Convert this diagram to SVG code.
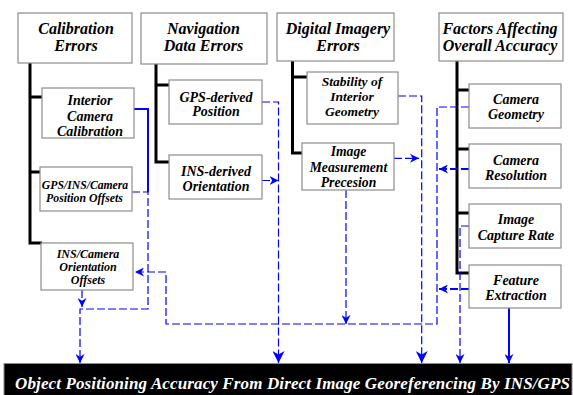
<svg xmlns="http://www.w3.org/2000/svg" width="573" height="395" viewBox="0 0 573 395">
<style>
.box{fill:#fff;stroke:#8c8c8c;stroke-width:1.2}
.h{font-family:"Liberation Serif","Times New Roman",serif;font-weight:bold;font-style:italic;font-size:16px;fill:#000;text-anchor:middle}
.t{font-family:"Liberation Serif","Times New Roman",serif;font-weight:bold;font-style:italic;font-size:14px;fill:#000;text-anchor:middle}
.s{font-family:"Liberation Serif","Times New Roman",serif;font-weight:bold;font-style:italic;font-size:12px;fill:#000;text-anchor:middle}
.trunk{fill:none;stroke:#000;stroke-width:3}
.d{fill:none;stroke:#0000ff;stroke-width:1.2;stroke-dasharray:8 3}
.sb{fill:none;stroke:#0000ff;stroke-width:2}
.bar{fill:#000;stroke:#8c8c8c;stroke-width:1}
.bt{font-family:"Liberation Serif","Times New Roman",serif;font-weight:bold;font-style:italic;font-size:17px;fill:#fff}
</style>
<defs>
<marker id="a" viewBox="0 0 10 10" refX="10" refY="5" markerWidth="9" markerHeight="9" markerUnits="userSpaceOnUse" orient="auto">
<path d="M0,0 L10,5 L0,10 L3,5 Z" fill="#0000ff"/>
</marker>
<marker id="A" viewBox="0 0 10 10" refX="10" refY="5" markerWidth="12" markerHeight="12" markerUnits="userSpaceOnUse" orient="auto">
<path d="M0,0 L10,5 L0,10 L3,5 Z" fill="#0000ff"/>
</marker>
</defs>

<g id="trunks">
<path class="trunk" d="M30,63 V243 H42 M30,97 H42 M30,172 H40"/>
<path class="trunk" d="M156,64 V162 H169 M156,85 H169"/>
<path class="trunk" d="M292.5,61 V153 H302 M292.5,77 H307"/>
<path class="trunk" d="M457,61 V273 H469 M457,90 H469 M457,149 H469 M457,213 H469"/>
</g>

<g id="connectors">
<path class="sb" d="M134,109 H148 V192"/>
<path class="d" d="M132,192 H148 V309 H80 V363" marker-end="url(#a)"/>
<path class="d" d="M82,290 V307" marker-end="url(#a)"/>
<path class="d" d="M469,107 H437 V324 H166 V272 H135" marker-end="url(#a)"/>
<path class="d" d="M346,190 V324" marker-end="url(#a)"/>
<path class="d" d="M262,102 H278.5 V363" marker-end="url(#A)"/>
<path class="d" d="M262,180.5 H278.5" marker-end="url(#a)"/>
<path class="d" d="M398,96 H421.7 V363" marker-end="url(#A)"/>
<path class="d" d="M394,158.3 H419" marker-end="url(#a)"/>
<path class="d" style="stroke-width:1.8" d="M469,169 H439" marker-end="url(#a)"/>
<path class="d" d="M469,226 H460 V363" marker-end="url(#a)"/>
<path class="d" style="stroke-width:1.8" d="M469,289 H439" marker-end="url(#a)"/>
<path class="sb" d="M509,308 V363" marker-end="url(#a)"/>
</g>

<g id="calibration-errors">
<rect class="box" x="18" y="13" width="114" height="50"/>
<text class="h" x="76" y="34">Calibration</text>
<text class="h" x="76" y="51">Errors</text>
</g>
<g id="navigation-data-errors">
<rect class="box" x="141" y="13" width="126" height="51"/>
<text class="h" x="203.5" y="34">Navigation</text>
<text class="h" x="203.5" y="51">Data Errors</text>
</g>
<g id="digital-imagery-errors">
<rect class="box" x="277" y="13" width="117" height="48"/>
<text class="h" x="338" y="34">Digital Imagery</text>
<text class="h" x="338" y="51">Errors</text>
</g>
<g id="factors">
<rect class="box" x="439" y="13" width="124" height="48"/>
<text class="h" x="500" y="34">Factors Affecting</text>
<text class="h" x="500" y="51">Overall Accuracy</text>
</g>

<g id="interior-camera-calibration">
<rect class="box" x="42" y="88" width="92" height="50"/>
<text class="t" x="90" y="105">Interior</text>
<text class="t" x="90" y="120.5">Camera</text>
<text class="t" x="90" y="136">Calibration</text>
</g>
<g id="gps-ins-camera-offsets">
<rect class="box" x="40" y="167" width="92" height="44"/>
<text class="s" x="85" y="188.5" style="font-size:11.7px">GPS/INS/Camera</text>
<text class="s" x="84.5" y="202" style="font-size:11.8px">Position Offsets</text>
</g>
<g id="ins-camera-orientation-offsets">
<rect class="box" x="41" y="243" width="92" height="47"/>
<text class="s" x="88" y="258">INS/Camera</text>
<text class="s" x="88" y="271">Orientation</text>
<text class="s" x="88" y="284">Offsets</text>
</g>
<g id="gps-derived-position">
<rect class="box" x="169" y="80" width="93" height="44"/>
<text class="t" x="216" y="101.5">GPS-derived</text>
<text class="t" x="216" y="116">Position</text>
</g>
<g id="ins-derived-orientation">
<rect class="box" x="169" y="155" width="93" height="44"/>
<text class="t" x="216" y="176">INS-derived</text>
<text class="t" x="216" y="191">Orientation</text>
</g>
<g id="stability">
<rect class="box" x="307" y="72" width="91" height="52"/>
<text class="t" x="352" y="86" style="font-size:13.5px">Stability of</text>
<text class="t" x="352" y="101" style="font-size:13.5px">Interior</text>
<text class="t" x="352" y="116" style="font-size:13.5px">Geometry</text>
</g>
<g id="image-measurement">
<rect class="box" x="302" y="143" width="92" height="47"/>
<text class="t" x="348.5" y="156" style="font-size:13.7px">Image</text>
<text class="t" x="348.5" y="171.5" style="font-size:13.7px">Measurement</text>
<text class="t" x="348.5" y="186.5" style="font-size:13.7px">Precesion</text>
</g>
<g id="camera-geometry">
<rect class="box" x="469" y="84" width="92" height="44"/>
<text class="t" x="516" y="104">Camera</text>
<text class="t" x="516" y="119">Geometry</text>
</g>
<g id="camera-resolution">
<rect class="box" x="469" y="144" width="92" height="44"/>
<text class="t" x="516" y="164.5">Camera</text>
<text class="t" x="516" y="179.5">Resolution</text>
</g>
<g id="image-capture-rate">
<rect class="box" x="469" y="204" width="92" height="44"/>
<text class="t" x="516" y="224">Image</text>
<text class="t" x="516" y="239.5">Capture Rate</text>
</g>
<g id="feature-extraction">
<rect class="box" x="469" y="265" width="92" height="43"/>
<text class="t" x="516" y="285">Feature</text>
<text class="t" x="516" y="300">Extraction</text>
</g>

<g id="object-positioning-accuracy">
<rect class="bar" x="4" y="363.5" width="568" height="32"/>
<text class="bt" x="15" y="389" textLength="555" lengthAdjust="spacing">Object Positioning Accuracy From Direct Image Georeferencing By INS/GPS</text>
</g>
</svg>
